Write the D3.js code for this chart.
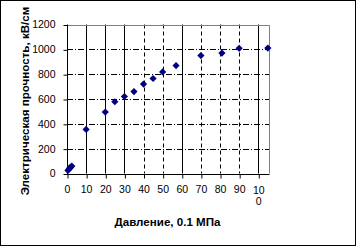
<!DOCTYPE html>
<html><head><meta charset="utf-8">
<script src="https://cdn.jsdelivr.net/npm/d3@7"></script>
<style>body{margin:0;background:#fff}svg{display:block}</style>
</head><body>
<script>
const pressure = [0.5, 1, 1.5, 2, 2.5, 10, 20, 25, 30, 35, 40, 45, 50, 57, 70, 81, 90, 105];
const strength = [25, 35, 45, 52, 60, 355, 495, 578, 620, 660, 720, 765, 818, 869, 950, 970, 1008, 1010];
const xTicks = [0, 10, 20, 30, 40, 50, 60, 70, 80, 90, 100];
const yTicks = [0, 200, 400, 600, 800, 1000, 1200];
const solidX = [10, 20, 30, 60, 100];
const dashedX = [40, 50, 70, 80, 90];
const yTitle = "Электрическая прочность, кВ/см";
const xTitle = "Давление, 0.1 МПа";

const W = 361, H = 247;
const svg = d3.select("body").append("svg").attr("width", W).attr("height", H);
svg.append("rect").attr("x", 0.5).attr("y", 0.5).attr("width", 355).attr("height", 245)
  .attr("fill", "#fff").attr("stroke", "#000").attr("stroke-width", 1);

const L = 67, R = 269, T = 24.5, B = 173.5;
const x = d3.scaleLinear().domain([0, 105.6]).range([L, R]);
const y = d3.scaleLinear().domain([0, 1200]).range([B, T]);
const font = "'Liberation Sans', Arial, sans-serif";

// horizontal dash-dot grid
svg.append("g").selectAll("line").data(yTicks.filter(v => v > 0 && v < 1200)).join("line")
  .attr("x1", L).attr("x2", R).attr("y1", d => Math.round(y(d)) + 0.5).attr("y2", d => Math.round(y(d)) + 0.5)
  .attr("stroke", "#000").attr("stroke-dasharray", "6,2,1,2");
// vertical grids
svg.append("g").selectAll("line").data(dashedX).join("line")
  .attr("x1", d => Math.round(x(d)) + 0.5).attr("x2", d => Math.round(x(d)) + 0.5).attr("y1", T).attr("y2", B)
  .attr("stroke", "#000").attr("stroke-dasharray", "4,3");
svg.append("g").selectAll("line").data(solidX).join("line")
  .attr("x1", d => Math.round(x(d)) + 0.5).attr("x2", d => Math.round(x(d)) + 0.5).attr("y1", T).attr("y2", B)
  .attr("stroke", "#000");
// gray top/right border
svg.append("path").attr("d", `M${L},${Math.round(T)+0.5}H${Math.round(R)+0.5}V${B}`)
  .attr("fill", "none").attr("stroke", "#808080");

// axes
const yAxis = d3.axisLeft(y).tickValues(yTicks).tickSize(4).tickPadding(8).tickFormat(d3.format("d"));
const gy = svg.append("g").attr("transform", `translate(${Math.round(L)+0.5},0)`).call(yAxis);
gy.selectAll("line").attr("transform", "translate(0,0.5)");
const xAxis = d3.axisBottom(x).tickValues(xTicks).tickSize(4).tickPadding(7).tickFormat(d => d === 100 ? "" : d);
const gx = svg.append("g").attr("transform", `translate(0,${Math.round(B)+0.5})`).call(xAxis);
gx.selectAll("line").attr("transform", "translate(0.5,0)");
[gx, gy].forEach(g => {
  g.select(".domain").attr("stroke", "#000");
  g.selectAll("line").attr("stroke", "#000");
  g.selectAll("text").attr("font-family", font).attr("font-size", 10.5).attr("fill", "#000");
});
gy.select(".domain").attr("d", `M0,${y(1200)}V${Math.round(B)+0.5}`);
gx.select(".domain").attr("d", `M${L},0H${Math.round(R)+0.5}`);
// wrapped label for 100
const t100 = gx.append("text").attr("font-family", font).attr("font-size", 10.5).attr("fill", "#000")
  .attr("text-anchor", "middle").attr("transform", `translate(${x(100) + 0.5},0)`);
t100.append("tspan").attr("x", 0).attr("y", 19).text(String(xTicks[10]).slice(0, 2));
t100.append("tspan").attr("x", 0).attr("y", 30).text(String(xTicks[10]).slice(2));

// points
const s = 3.6;
svg.append("g").selectAll("path").data(pressure.map((p, i) => [p, strength[i]])).join("path")
  .attr("d", d => `M${x(d[0])},${y(d[1]) - s}L${x(d[0]) + s},${y(d[1])}L${x(d[0])},${y(d[1]) + s}L${x(d[0]) - s},${y(d[1])}Z`)
  .attr("fill", "#000080");

// titles
svg.append("text").attr("transform", `translate(29,101) rotate(-90)`).attr("text-anchor", "middle")
  .attr("font-family", font).attr("font-weight", "bold").attr("font-size", 11.6).text(yTitle);
svg.append("text").attr("x", 167.5).attr("y", 225.5).attr("text-anchor", "middle")
  .attr("font-family", font).attr("font-weight", "bold").attr("font-size", 11.6).text(xTitle);
</script>
</body></html>
